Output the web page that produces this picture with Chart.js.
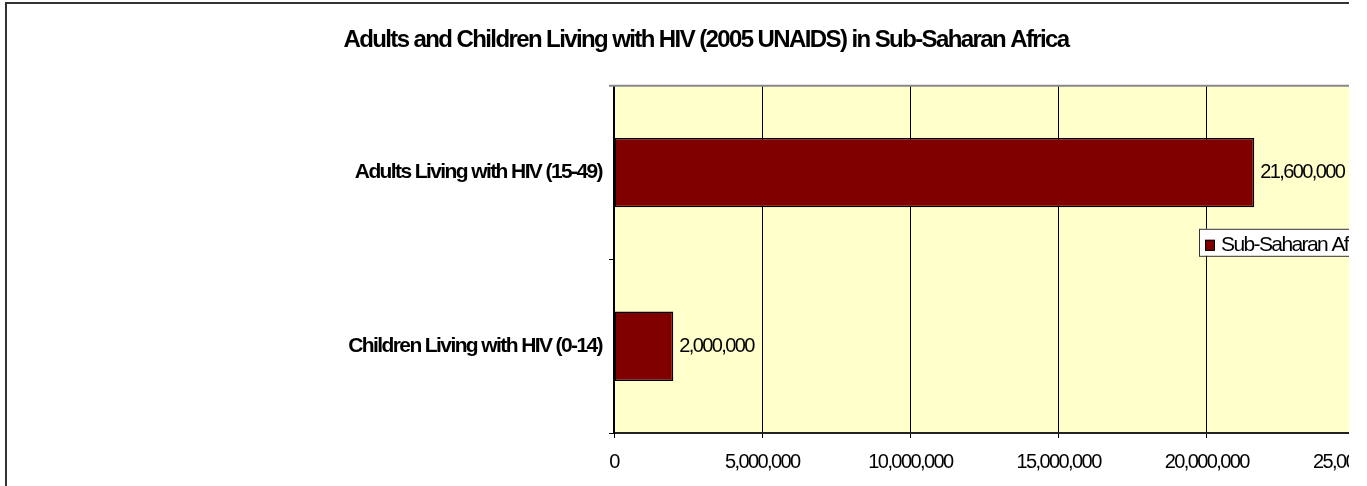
<!DOCTYPE html>
<html>
<head>
<meta charset="utf-8">
<title>Adults and Children Living with HIV</title>
<script src="https://cdn.jsdelivr.net/npm/chart.js@4.4.1/dist/chart.umd.min.js"></script>
<style>
  body { margin: 0; background: #fff; }
  #wrap { width: 1349px; height: 486px; overflow: hidden; }
  canvas { display: block; }
</style>
</head>
<body>
<div id="wrap"><canvas id="hivChart" width="1412" height="486"></canvas></div>
<script>
const categories = ['Adults Living with HIV (15-49)', 'Children Living with HIV (0-14)'];
const subSaharanAfrica = [21600000, 2000000];
const seriesName = 'Sub-Saharan Africa';
const axisMax = 25000000;
const axisStep = 5000000;

const FONT = "'Liberation Sans', Arial, sans-serif";
const TIGHT = '-1.6px';
const fmt = v => Number(v).toLocaleString('en-US');

// plot background, outer frame, tight text spacing
const chartFrame = {
    id: 'chartFrame',
    beforeDraw(chart) {
        const { ctx, chartArea: a } = chart;
        ctx.letterSpacing = TIGHT;
        ctx.save();
        ctx.fillStyle = '#ffffcc';
        ctx.fillRect(a.left, a.top, a.right - a.left, a.bottom - a.top);
        ctx.strokeStyle = '#333';
        ctx.lineWidth = 2;
        ctx.beginPath();
        ctx.moveTo(6, chart.height);
        ctx.lineTo(6, 3);
        ctx.lineTo(chart.width, 3);
        ctx.stroke();
        ctx.restore();
    },
    afterDatasetsDraw(chart) {
        const { ctx, chartArea: a } = chart;
        ctx.save();
        // plot area top edge
        ctx.strokeStyle = '#888';
        ctx.lineWidth = 2;
        ctx.beginPath();
        ctx.moveTo(a.left - 5, a.top);
        ctx.lineTo(a.right, a.top);
        ctx.stroke();

        // value labels
        ctx.fillStyle = '#000';
        ctx.font = '20px ' + FONT;
        ctx.textAlign = 'left';
        ctx.textBaseline = 'middle';
        chart.getDatasetMeta(0).data.forEach((bar, i) => {
            ctx.fillText(fmt(subSaharanAfrica[i]), bar.x + 6, bar.y);
        });

        // legend box
        const lx = a.left + 585, ly = a.top + 143;
        ctx.fillStyle = '#fff';
        ctx.fillRect(lx, ly, 200, 27);
        ctx.strokeStyle = '#333';
        ctx.lineWidth = 1;
        ctx.strokeRect(lx + 0.5, ly + 0.5, 200, 27);
        ctx.fillStyle = '#800000';
        ctx.fillRect(lx + 6, ly + 11, 10, 11);
        ctx.strokeStyle = '#000';
        ctx.strokeRect(lx + 6.5, ly + 11.5, 9, 10);
        ctx.fillStyle = '#000';
        ctx.font = '21px ' + FONT;
        ctx.fillText(seriesName, lx + 22, ly + 16);
        ctx.restore();
    }
};

const ctx = document.getElementById('hivChart').getContext('2d');

new Chart(ctx, {
    type: 'bar',
    data: {
        labels: categories,
        datasets: [{
            label: seriesName,
            data: subSaharanAfrica,
            backgroundColor: '#800000',
            borderColor: '#000',
            borderWidth: 1.5,
            borderSkipped: false,
            categoryPercentage: 0.4,
            barPercentage: 1
        }]
    },
    options: {
        indexAxis: 'y',
        responsive: false,
        animation: false,
        layout: { padding: 0 },
        plugins: {
            legend: { display: false },
            tooltip: { enabled: false },
            title: {
                display: true,
                text: 'Adults and Children Living with HIV (2005 UNAIDS) in Sub-Saharan Africa',
                color: '#000',
                font: { family: FONT, size: 24, weight: 'bold' },
                padding: { top: 26, bottom: 31 }
            }
        },
        scales: {
            x: {
                min: 0,
                max: axisMax,
                ticks: {
                    stepSize: axisStep,
                    color: '#000',
                    padding: 12,
                    font: { family: FONT, size: 20 },
                    callback: v => fmt(v)
                },
                grid: { color: '#000', lineWidth: 1, tickLength: 5, tickColor: '#000' },
                border: { color: '#222', width: 2 },
                afterFit(s) {
                    s.height = 53;
                    s.paddingLeft = 0;
                    s.paddingRight = 0;
                }
            },
            y: {
                ticks: {
                    color: '#000',
                    padding: 7,
                    font: { family: FONT, size: 21, weight: 'bold' }
                },
                grid: { drawOnChartArea: false, tickLength: 5, tickColor: '#000' },
                border: { color: '#000', width: 2 },
                afterFit(s) { s.width = 614; }
            },
            pad: {
                type: 'linear',
                position: 'right',
                ticks: { display: false },
                grid: { display: false },
                border: { display: false },
                afterFit(s) { s.width = 57; }
            }
        }
    },
    plugins: [chartFrame]
});
</script>
</body>
</html>
